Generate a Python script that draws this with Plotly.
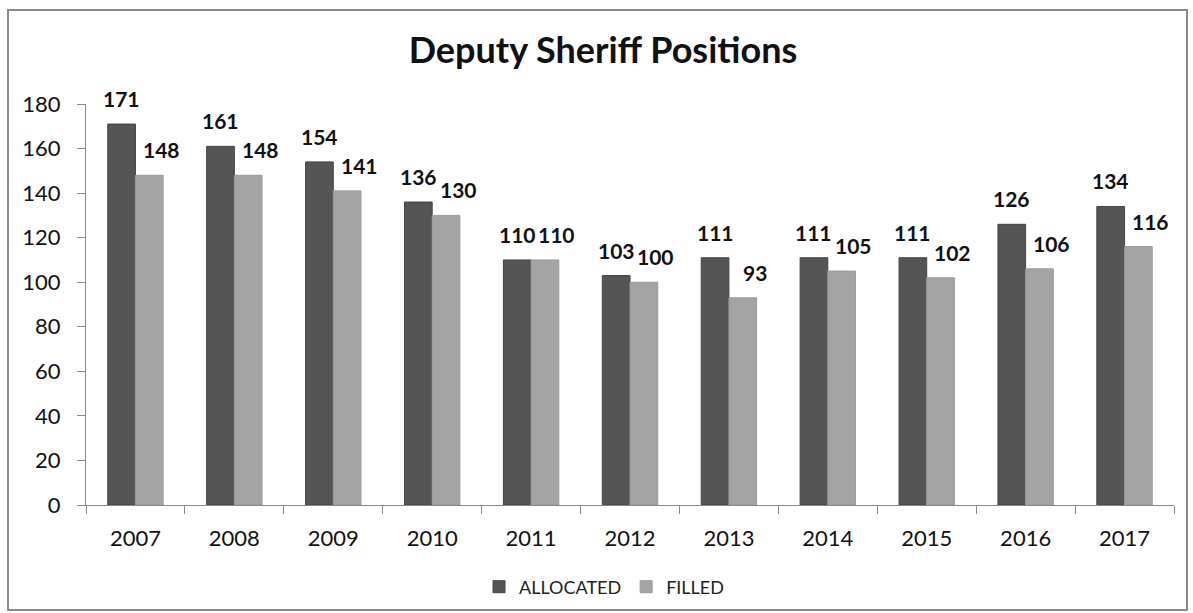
import plotly.graph_objects as go

# Chart data
years = ["2007", "2008", "2009", "2010", "2011", "2012",
         "2013", "2014", "2015", "2016", "2017"]
allocated = [171, 161, 154, 136, 110, 103, 111, 111, 111, 126, 134]
filled = [148, 148, 141, 130, 110, 100, 93, 105, 102, 106, 116]
y_ticks = [0, 20, 40, 60, 80, 100, 120, 140, 160, 180]

FONT = "Lato, 'Open Sans', sans-serif"
DARK = "#555555"
LIGHT = "#a4a4a4"
AXIS = "#888888"

W, H = 1193, 613
M = dict(l=86, r=19, t=104, b=108)

BARGAP = 0.44
bar_w = (1 - BARGAP) / 2  # width of one bar in category units

fig = go.Figure()
fig.add_trace(go.Bar(x=years, y=allocated, name="ALLOCATED",
                     marker=dict(color=DARK, line=dict(color="#444444", width=1))))
fig.add_trace(go.Bar(x=years, y=filled, name="FILLED",
                     marker=dict(color=LIGHT, line=dict(color="#9a9a9a", width=1))))

# value labels above each bar
annotations = []
for i, (a, f) in enumerate(zip(allocated, filled)):
    annotations.append(dict(x=i - bar_w / 2, y=a, xref="x", yref="y",
                            text=f"<b>{a}</b>", showarrow=False,
                            yanchor="bottom", xanchor="center", yshift=11,
                            font=dict(family=FONT, size=21, color="#111111")))
    annotations.append(dict(x=i + bar_w / 2, y=f, xref="x", yref="y",
                            text=f"<b>{f}</b>", showarrow=False,
                            yanchor="bottom", xanchor="center", yshift=11, xshift=12,
                            font=dict(family=FONT, size=21, color="#111111")))

# outer frame around the whole chart
pw = W - M["l"] - M["r"]
ph = H - M["t"] - M["b"]
frame = dict(type="rect", xref="paper", yref="paper",
             x0=(8 - M["l"]) / pw, x1=(1187 - M["l"]) / pw,
             y0=(H - M["b"] - 610) / ph, y1=(H - M["b"] - 10) / ph,
             line=dict(color="#8a8a8a", width=2), layer="below")

fig.update_layout(
    width=W, height=H, margin=M,
    paper_bgcolor="white", plot_bgcolor="white",
    barmode="group", bargap=BARGAP, bargroupgap=0,
    title=dict(text="<b>Deputy Sheriff Positions</b>",
               x=603 / W, xref="container", xanchor="center",
               y=1 - 50 / H, yref="container", yanchor="middle",
               font=dict(family=FONT, size=36, color="#111111")),
    font=dict(family=FONT, color="#111111"),
    showlegend=True,
    legend=dict(orientation="h", x=604 / W, xref="container", xanchor="center",
                y=(H - 587) / H, yref="container", yanchor="middle",
                font=dict(family=FONT, size=18, color="#222222"),
                itemwidth=30, traceorder="normal"),
    annotations=annotations,
    shapes=[frame],
)

fig.update_xaxes(type="category", showgrid=False, showline=True,
                 linecolor=AXIS, linewidth=1, ticks="outside",
                 tickson="boundaries", ticklen=8, tickcolor=AXIS,
                 ticklabelstandoff=14,
                 tickfont=dict(family=FONT, size=22, color="#111111"))
fig.update_yaxes(range=[0, 180], tickvals=y_ticks, showgrid=False,
                 showline=True, linecolor=AXIS, linewidth=1,
                 ticks="outside", ticklen=8, tickcolor=AXIS,
                 ticklabelstandoff=12, zeroline=False,
                 tickfont=dict(family=FONT, size=22, color="#111111"))

fig.write_html("out.html")
